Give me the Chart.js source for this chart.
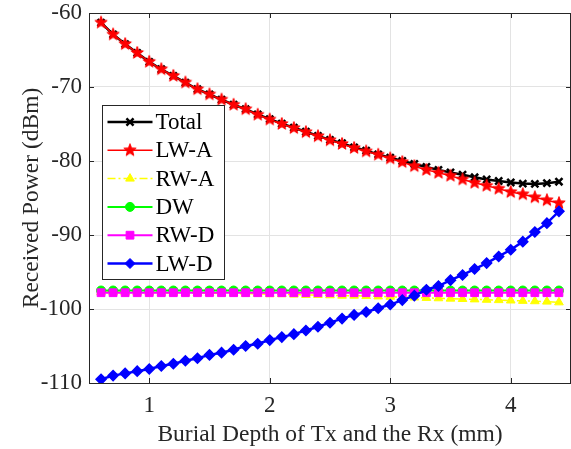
<!DOCTYPE html>
<html>
<head>
<meta charset="utf-8">
<script src="https://cdn.jsdelivr.net/npm/chart.js@4"></script>
<style>
  html, body { margin: 0; padding: 0; background: #fff; overflow: hidden; }
</style>
</head>
<body>
<canvas id="chart" width="571" height="449"></canvas>
<script>
// ====== DATA ======
const depth = [0.6, 0.7, 0.8, 0.9, 1.0, 1.1, 1.2, 1.3, 1.4, 1.5, 1.6, 1.7, 1.8, 1.9,
  2.0, 2.1, 2.2, 2.3, 2.4, 2.5, 2.6, 2.7, 2.8, 2.9, 3.0, 3.1, 3.2, 3.3, 3.4, 3.5,
  3.6, 3.7, 3.8, 3.9, 4.0, 4.1, 4.2, 4.3, 4.4];

const total = [-61.3, -62.9, -64.2, -65.4, -66.6, -67.6, -68.5, -69.4, -70.3, -71.0,
  -71.7, -72.4, -73.0, -73.7, -74.35, -74.95, -75.5, -76.05, -76.6, -77.15, -77.6,
  -78.15, -78.6, -79.1, -79.55, -80.0, -80.4, -80.8, -81.2, -81.55, -81.85, -82.2,
  -82.5, -82.7, -82.9, -83.05, -83.1, -83.0, -82.8];

const lwA = [-61.3, -62.9, -64.2, -65.4, -66.6, -67.6, -68.5, -69.4, -70.3, -71.0,
  -71.7, -72.4, -73.0, -73.75, -74.4, -75.0, -75.55, -76.1, -76.65, -77.2, -77.7,
  -78.25, -78.7, -79.15, -79.65, -80.15, -80.7, -81.2, -81.6, -82.0, -82.5, -82.95,
  -83.35, -83.75, -84.2, -84.5, -84.9, -85.3, -85.7];

const rwA = [-97.7, -97.7, -97.7, -97.75, -97.75, -97.8, -97.8, -97.8, -97.85, -97.85,
  -97.9, -97.9, -97.95, -97.95, -98.0, -98.0, -98.05, -98.1, -98.1, -98.15, -98.2,
  -98.2, -98.25, -98.3, -98.35, -98.4, -98.45, -98.5, -98.55, -98.6, -98.65, -98.7,
  -98.75, -98.8, -98.85, -98.9, -98.95, -99.0, -99.1];

const dw = [-97.5, -97.5, -97.5, -97.5, -97.5, -97.5, -97.5, -97.5, -97.5, -97.5,
  -97.5, -97.5, -97.5, -97.5, -97.5, -97.5, -97.5, -97.5, -97.5, -97.5, -97.5,
  -97.5, -97.5, -97.5, -97.5, -97.5, -97.5, -97.5, -97.5, -97.5, -97.5, -97.5,
  -97.5, -97.5, -97.5, -97.5, -97.5, -97.5, -97.5];

const rwD = [-97.8, -97.8, -97.8, -97.8, -97.8, -97.8, -97.8, -97.8, -97.8, -97.8,
  -97.8, -97.8, -97.8, -97.8, -97.8, -97.8, -97.8, -97.8, -97.8, -97.8, -97.8,
  -97.8, -97.8, -97.8, -97.8, -97.8, -97.8, -97.8, -97.8, -97.8, -97.8, -97.8,
  -97.8, -97.8, -97.8, -97.8, -97.8, -97.8, -97.8];

const lwD = [-109.5, -109.0, -108.7, -108.4, -108.1, -107.7, -107.4, -107.0, -106.65,
  -106.2, -105.9, -105.5, -105.0, -104.7, -104.2, -103.8, -103.4, -102.9, -102.4,
  -101.85, -101.3, -100.8, -100.4, -99.9, -99.4, -98.8, -98.2, -97.4, -96.9, -96.1,
  -95.4, -94.6, -93.8, -92.9, -92.0, -90.9, -89.6, -88.4, -86.8];

const seriesNames = ["Total", "LW-A", "RW-A", "DW", "RW-D", "LW-D"];
const xTicks = [1, 2, 3, 4];
const yTicks = [-110, -100, -90, -80, -70, -60];

const AXIS = "#262626";
const FONT = "'Liberation Serif', 'Times New Roman', serif";

// ====== MARKERS ======
function pentagram(color, r) {
  const c = document.createElement("canvas");
  const s = Math.ceil(r * 2 + 3);
  c.width = s; c.height = s;
  const g = c.getContext("2d");
  g.beginPath();
  for (let i = 0; i < 10; i++) {
    const rr = i % 2 === 0 ? r : r * 0.42;
    const a = -Math.PI / 2 + i * Math.PI / 5;
    g.lineTo(s / 2 + rr * Math.cos(a), s / 2 + rr * Math.sin(a));
  }
  g.closePath();
  g.fillStyle = color;
  g.fill();
  g.strokeStyle = color;
  g.lineWidth = 1;
  g.stroke();
  return c;
}
const starImg = pentagram("#ff0000", 6.5);

const toXY = (ys) => ys.map((y, i) => ({ x: depth[i], y }));

const styles = [
  { data: total, color: "#000000", width: 2.5, dash: [], point: "crossRot", radius: 5, pbw: 2.5, order: 6 },
  { data: lwA, color: "#ff0000", width: 1.5, dash: [], point: starImg, radius: 6, pbw: 1, order: 5 },
  { data: rwA, color: "#ffff00", width: 1.5, dash: [8, 3, 2, 3], point: "triangle", radius: 5, pbw: 1, order: 4 },
  { data: dw, color: "#00ff00", width: 2, dash: [], point: "circle", radius: 4.5, pbw: 1, order: 3 },
  { data: rwD, color: "#ff00ff", width: 2, dash: [], point: "rect", radius: 5.5, pbw: 1, order: 2 },
  { data: lwD, color: "#0000ff", width: 2.5, dash: [], point: "rectRot", radius: 5, pbw: 1.5, order: 1 },
];

const datasets = styles.map((s, i) => ({
  label: seriesNames[i],
  data: toXY(s.data),
  borderColor: s.color,
  backgroundColor: s.color,
  borderWidth: s.width,
  borderDash: s.dash,
  pointStyle: s.point,
  pointRadius: s.radius,
  pointBorderWidth: s.pbw,
  pointBackgroundColor: s.color,
  pointBorderColor: s.color,
  order: s.order,
  tension: 0,
}));

// ====== LEGEND / FRAME ======
function drawMarker(ctx, style, x, y, r, color) {
  ctx.save();
  ctx.fillStyle = color;
  ctx.strokeStyle = color;
  ctx.setLineDash([]);
  ctx.beginPath();
  if (style === "crossRot") {
    ctx.lineWidth = 2.5;
    const d = r * Math.SQRT1_2;
    ctx.moveTo(x - d, y - d); ctx.lineTo(x + d, y + d);
    ctx.moveTo(x + d, y - d); ctx.lineTo(x - d, y + d);
    ctx.stroke();
  } else if (style === "triangle") {
    ctx.lineWidth = 1;
    ctx.moveTo(x, y - r);
    ctx.lineTo(x + r * 0.866, y + r * 0.5);
    ctx.lineTo(x - r * 0.866, y + r * 0.5);
    ctx.closePath(); ctx.fill(); ctx.stroke();
  } else if (style === "circle") {
    ctx.lineWidth = 1;
    ctx.arc(x, y, r, 0, Math.PI * 2);
    ctx.fill(); ctx.stroke();
  } else if (style === "rect") {
    ctx.lineWidth = 1;
    const d = r * Math.SQRT1_2;
    ctx.rect(x - d, y - d, 2 * d, 2 * d);
    ctx.fill(); ctx.stroke();
  } else if (style === "rectRot") {
    ctx.lineWidth = 1;
    ctx.moveTo(x, y - r); ctx.lineTo(x + r, y); ctx.lineTo(x, y + r); ctx.lineTo(x - r, y);
    ctx.closePath(); ctx.fill(); ctx.stroke();
  } else {
    ctx.drawImage(style, x - style.width / 2, y - style.height / 2);
  }
  ctx.restore();
}

const framePlugin = {
  id: "frame",
  afterDraw(chart) {
    const { ctx, chartArea: a } = chart;
    const xs = chart.scales.x, ys = chart.scales.y;
    ctx.save();
    ctx.strokeStyle = AXIS;
    ctx.lineWidth = 1;
    ctx.beginPath();
    xTicks.forEach((t) => {
      const px = Math.round(xs.getPixelForValue(t)) + 0.5;
      ctx.moveTo(px, a.bottom); ctx.lineTo(px, a.bottom - 5);
      ctx.moveTo(px, a.top); ctx.lineTo(px, a.top + 5);
    });
    yTicks.forEach((t) => {
      const py = Math.round(ys.getPixelForValue(t)) + 0.5;
      ctx.moveTo(a.left, py); ctx.lineTo(a.left + 5, py);
      ctx.moveTo(a.right, py); ctx.lineTo(a.right - 5, py);
    });
    ctx.stroke();
    ctx.strokeRect(Math.round(a.left) + 0.5, Math.round(a.top) + 0.5,
      Math.round(a.right - a.left) - 1, Math.round(a.bottom - a.top));

    // legend box
    const lx = 102.5, ly = 105.5, lw = 122, lh = 174;
    ctx.fillStyle = "#ffffff";
    ctx.fillRect(lx, ly, lw, lh);
    ctx.strokeStyle = AXIS;
    ctx.strokeRect(lx, ly, lw, lh);
    ctx.font = "23px " + FONT;
    ctx.textBaseline = "middle";
    styles.forEach((s, i) => {
      const y = ly + 16.5 + i * 28.3;
      ctx.strokeStyle = s.color;
      ctx.lineWidth = s.width;
      ctx.setLineDash(s.dash);
      ctx.beginPath();
      ctx.moveTo(lx + 5, y); ctx.lineTo(lx + 50, y);
      ctx.stroke();
      ctx.setLineDash([]);
      drawMarker(ctx, s.point, lx + 27.5, y, s.radius, s.color);
      ctx.fillStyle = "#000000";
      ctx.fillText(seriesNames[i], lx + 53, y + 1);
    });
    ctx.restore();
  },
};

// ====== CHART ======
new Chart(document.getElementById("chart"), {
  type: "line",
  data: { datasets },
  plugins: [framePlugin],
  options: {
    responsive: false,
    animation: false,
    devicePixelRatio: 1,
    layout: { autoPadding: false, padding: { top: 13, right: -2, left: 0, bottom: 0 } },
    plugins: { legend: { display: false }, tooltip: { enabled: false } },
    scales: {
      x: {
        type: "linear",
        min: 0.5,
        max: 4.5,
        afterBuildTicks: (s) => { s.ticks = xTicks.map((v) => ({ value: v })); },
        afterFit: (s) => { s.height = 66; s.paddingLeft = 0; s.paddingRight = 0; },
        grid: { color: "#e3e3e3", drawTicks: false },
        border: { display: false },
        ticks: { color: AXIS, font: { family: FONT, size: 23 }, padding: 9 },
        title: {
          display: true,
          text: "Burial Depth of Tx and the Rx (mm)",
          color: AXIS,
          font: { family: FONT, size: 23.5 },
          padding: { top: 0, bottom: 0 },
        },
      },
      y: {
        min: -110,
        max: -60,
        afterBuildTicks: (s) => { s.ticks = yTicks.map((v) => ({ value: v })); },
        afterFit: (s) => { s.width = 89; s.paddingTop = 0; s.paddingBottom = 0; },
        grid: { color: "#e3e3e3", drawTicks: false },
        border: { display: false },
        ticks: { color: AXIS, font: { family: FONT, size: 23 }, padding: 7 },
        title: {
          display: true,
          text: "Received Power (dBm)",
          color: AXIS,
          font: { family: FONT, size: 23.5 },
          padding: { top: 18, bottom: 0 },
        },
      },
    },
  },
});
</script>
</body>
</html>
